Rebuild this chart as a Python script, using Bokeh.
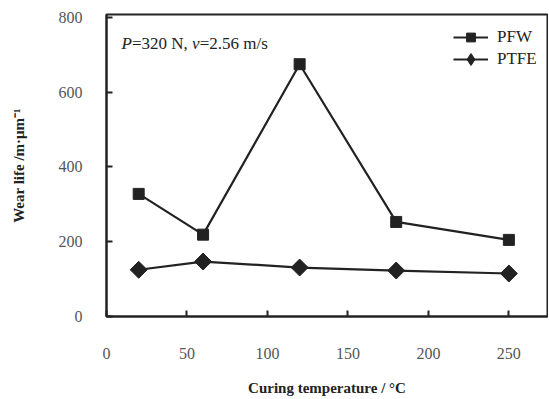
import numpy as np
from bokeh.plotting import figure
from bokeh.models import FixedTicker, Label, Legend, LegendItem, Range1d
from bokeh.embed import file_html
from bokeh.resources import INLINE

# Data
curing_temp = [20, 60, 120, 180, 250]
pfw = [328, 219, 675, 253, 205]
ptfe = [125, 147, 131, 123, 115]
x_ticks = [0, 50, 100, 150, 200, 250]
y_ticks = [0, 200, 400, 600, 800]

FONT = "Liberation Serif"
INK = "#222222"

p = figure(width=548, height=398, output_backend="svg", toolbar_location=None,
           x_range=Range1d(0, 274), y_range=Range1d(0, 808),
           min_border_left=106, min_border_right=1, min_border_top=14, min_border_bottom=81)
p.background_fill_color = "white"
p.border_fill_color = "white"
p.outline_line_color = INK
p.outline_line_width = 2
p.grid.visible = False

for ax in (p.xaxis[0], p.yaxis[0]):
    ax.axis_line_color = INK
    ax.axis_line_width = 2
    ax.major_tick_line_color = INK
    ax.major_tick_line_width = 2
    ax.major_tick_in = 6
    ax.major_tick_out = 0
    ax.minor_tick_line_color = None
    ax.major_label_text_font = FONT
    ax.major_label_text_font_size = "16px"
    ax.major_label_text_color = "#555555"
    ax.axis_label_text_font = FONT
    ax.axis_label_text_font_size = "15px"
    ax.axis_label_text_font_style = "bold"
    ax.axis_label_text_color = INK

p.xaxis.ticker = FixedTicker(ticks=x_ticks)
p.yaxis.ticker = FixedTicker(ticks=y_ticks)
p.xaxis.major_label_standoff = 31
p.yaxis.major_label_standoff = 24
p.xaxis.axis_label = "Curing temperature / \u00b0C"
p.yaxis.axis_label = "Wear life /m\u00b7\u03bcm\u207b\u00b9"
p.xaxis.axis_label_standoff = 18
p.yaxis.axis_label_standoff = 29

l1 = p.line(curing_temp, pfw, line_color=INK, line_width=2.2)
m1 = p.scatter(curing_temp, pfw, marker="square", size=11, fill_color=INK, line_color=INK)
l2 = p.line(curing_temp, ptfe, line_color=INK, line_width=2.2)
# diamond (hidden under the rotated squares) gives the legend its diamond swatch
d2 = p.scatter(curing_temp, ptfe, marker="diamond", size=12, fill_color=INK, line_color=INK)
m2 = p.scatter(curing_temp, ptfe, marker="square", angle=np.pi / 4, size=12,
               fill_color=INK, line_color=INK)

common = dict(glyph_width=35, label_standoff=9, spacing=0, padding=0, margin=0,
              label_text_font=FONT, label_text_font_size="17px",
              label_text_color=INK, background_fill_alpha=0, border_line_color=None)
leg1 = Legend(items=[LegendItem(label="PFW", renderers=[l1, m1])],
              location=(347, 268), glyph_height=22, label_height=22, **common)
leg2 = Legend(items=[LegendItem(label="PTFE", renderers=[l2, d2])],
              location=(347, 242), glyph_height=30, label_height=30, **common)
p.add_layout(leg1)
p.add_layout(leg2)

parts = [("P", 9.3, "italic"), ("=320 N,", 15.8, "normal"),
         ("v", 53.2, "italic"), ("=2.56 m/s", 57.9, "normal")]
for txt, xx, style in parts:
    p.add_layout(Label(x=xx, y=731, text=txt, text_font=FONT, text_font_size="17px",
                       text_font_style=style, text_color=INK, text_baseline="middle"))

open("out.html", "w").write(file_html(p, INLINE))
